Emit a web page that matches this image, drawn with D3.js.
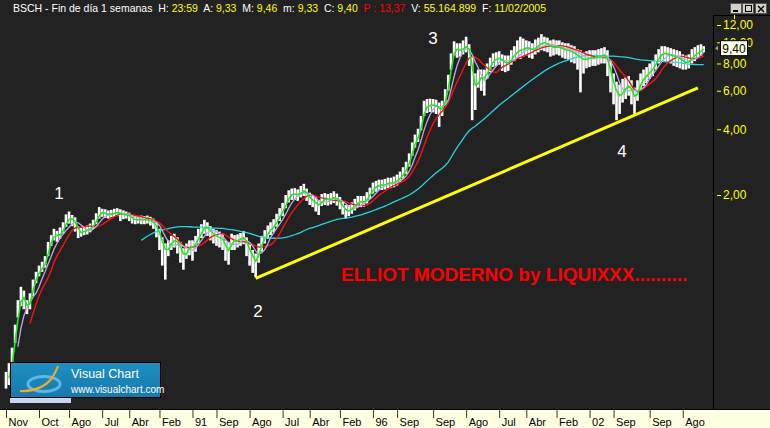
<!DOCTYPE html>
<html><head><meta charset="utf-8">
<script src="https://cdn.jsdelivr.net/npm/d3@7"></script>
<style>
html,body{margin:0;padding:0;background:#222;}
svg{display:block;}
</style></head><body>
<svg id="c" width="770" height="428"></svg>
<script>
// ---- data (monthly bars, starting Nov 1985) ----
const startMonth = "1985-11";
const closes = [0.28,0.30,0.37,0.48,0.59,0.71,0.65,0.60,0.67,0.78,0.85,0.90,0.94,0.98,1.16,1.25,1.32,1.30,1.32,1.41,
1.52,1.57,1.54,1.49,1.34,1.35,1.37,1.38,1.41,1.46,1.55,1.66,1.66,1.64,1.62,1.64,1.66,1.66,1.64,1.62,
1.62,1.60,1.55,1.54,1.54,1.54,1.54,1.54,1.52,1.49,1.40,1.30,1.17,1.09,1.16,1.22,1.25,1.20,1.12,1.03,
1.12,1.16,1.15,1.21,1.30,1.37,1.44,1.41,1.35,1.31,1.29,1.27,1.25,1.12,1.11,1.25,1.22,1.25,1.26,1.29,
1.17,1.10,1.01,0.98,1.12,1.22,1.29,1.36,1.40,1.44,1.54,1.62,1.71,1.86,1.98,2.02,2.02,2.00,2.06,2.11,
2.00,1.92,1.88,1.81,1.79,1.90,1.92,1.90,1.92,1.96,1.90,1.84,1.74,1.69,1.69,1.74,1.81,1.86,1.86,1.86,
1.94,2.04,2.15,2.19,2.22,2.22,2.24,2.27,2.27,2.29,2.34,2.41,2.52,2.66,2.89,3.25,3.53,3.75,4.28,5.00,
5.11,5.16,5.16,5.11,4.90,5.00,5.67,6.50,8.30,9.40,9.20,9.20,9.40,9.70,8.90,6.70,6.05,6.90,6.85,6.90,
7.40,7.90,8.30,8.40,8.50,8.15,8.05,8.05,8.50,8.80,9.20,9.20,9.35,9.45,9.35,9.20,9.50,9.70,10.00,9.90,
9.80,9.50,9.50,9.50,9.50,9.30,9.20,9.20,9.00,8.90,8.60,8.45,8.30,8.40,8.50,8.50,8.50,8.60,8.70,8.80,
8.05,7.00,6.20,5.80,5.60,6.05,6.20,6.40,5.90,5.45,6.10,6.60,6.90,7.10,7.40,7.60,8.15,8.60,8.90,8.90,
8.80,8.70,8.60,8.50,8.40,8.15,8.05,8.15,8.60,8.80,9.00,9.20,9.40];
const highs = [0.31,0.34,0.40,0.51,0.66,0.76,0.73,0.66,0.71,0.82,0.89,0.95,0.99,1.05,1.22,1.31,1.40,1.37,1.42,1.50,
1.63,1.68,1.62,1.58,1.44,1.42,1.44,1.45,1.48,1.54,1.65,1.76,1.73,1.72,1.70,1.71,1.73,1.74,1.72,1.70,
1.68,1.66,1.62,1.60,1.60,1.61,1.60,1.61,1.59,1.56,1.50,1.40,1.28,1.20,1.24,1.30,1.33,1.28,1.22,1.14,
1.20,1.24,1.24,1.30,1.40,1.47,1.54,1.50,1.44,1.40,1.38,1.36,1.33,1.24,1.22,1.33,1.31,1.32,1.34,1.37,
1.28,1.20,1.12,1.08,1.20,1.30,1.38,1.45,1.50,1.55,1.64,1.74,1.84,2.00,2.10,2.14,2.15,2.12,2.20,2.25,
2.14,2.05,2.00,1.95,1.90,2.02,2.04,2.02,2.04,2.08,2.03,1.96,1.86,1.80,1.80,1.85,1.92,1.98,1.98,1.98,
2.06,2.16,2.28,2.32,2.35,2.35,2.37,2.40,2.40,2.43,2.48,2.56,2.68,2.84,3.10,3.48,3.78,4.02,4.60,5.40,
5.50,5.52,5.50,5.46,5.30,5.40,6.10,7.10,8.90,10.10,9.90,9.90,10.20,10.60,9.80,8.60,7.20,7.50,7.50,7.50,
8.00,8.50,8.90,9.00,9.10,8.80,8.70,8.70,9.20,9.60,10.20,10.60,10.40,10.20,10.10,9.90,10.30,10.50,10.90,10.60,
10.50,10.20,10.30,10.20,10.20,10.00,9.90,9.90,9.70,9.60,9.30,9.20,9.00,9.10,9.20,9.20,9.20,9.30,9.40,9.50,
9.20,8.20,7.20,6.60,6.40,6.80,6.90,7.00,6.70,6.20,6.70,7.20,7.50,7.70,8.00,8.20,8.80,9.30,9.60,9.60,
9.50,9.40,9.30,9.20,9.10,8.80,8.70,8.80,9.30,9.50,9.70,9.80,9.60];
const lows = [0.26,0.27,0.33,0.42,0.55,0.62,0.60,0.57,0.60,0.69,0.79,0.85,0.89,0.93,1.05,1.17,1.24,1.22,1.26,1.33,
1.43,1.48,1.44,1.36,1.27,1.29,1.31,1.32,1.35,1.40,1.47,1.56,1.59,1.57,1.56,1.58,1.59,1.60,1.52,1.55,
1.56,1.52,1.48,1.47,1.48,1.47,1.47,1.48,1.45,1.40,1.28,1.12,0.95,0.82,1.05,1.12,1.15,1.08,0.98,0.91,
1.02,1.06,1.00,1.10,1.20,1.27,1.33,1.30,1.24,1.20,1.17,1.15,1.12,1.00,0.96,1.12,1.12,1.15,1.17,1.19,
1.05,0.95,0.88,0.84,0.98,1.10,1.20,1.26,1.31,1.35,1.43,1.52,1.60,1.74,1.85,1.90,1.90,1.88,1.95,1.98,
1.88,1.80,1.76,1.68,1.62,1.78,1.80,1.79,1.81,1.84,1.79,1.72,1.63,1.56,1.60,1.64,1.70,1.76,1.76,1.77,
1.83,1.92,2.03,2.07,2.10,2.11,2.12,2.15,2.15,2.17,2.21,2.28,2.38,2.50,2.70,3.02,3.30,3.50,3.95,4.60,
4.75,4.80,4.78,4.70,4.10,4.60,5.20,6.00,7.50,8.70,8.50,8.60,8.80,9.00,7.80,4.40,4.90,6.20,6.00,5.70,
6.80,7.30,7.70,7.80,7.90,7.40,7.30,7.40,7.90,8.20,8.50,8.40,8.60,8.70,8.50,8.40,8.80,9.00,9.20,9.10,
9.00,8.60,8.70,8.80,8.70,8.50,8.40,8.30,8.10,8.00,7.50,5.90,7.20,7.60,7.70,7.80,7.80,7.90,8.00,8.00,
7.00,5.90,5.20,4.40,4.70,5.30,5.50,5.70,5.20,4.70,5.40,6.00,6.30,6.50,6.80,7.00,7.50,8.00,8.20,8.20,
8.10,8.00,7.80,7.70,7.60,7.50,7.50,7.60,8.00,8.20,8.50,8.70,9.00];
const maPeriods = [46, 9, 5, 2];           // cyan, red, lavender, green
const tickDates = ["1985-11","1986-10","1987-08","1988-07","1989-04","1990-02","1991-01","1991-09","1992-08","1993-07","1994-04","1995-02","1996-01","1996-09","1997-09","1998-08","1999-07","2000-04","2001-02","2002-01","2002-09","2003-09","2004-08"];
const tickLabels = ["Nov","Oct","Ago","Jul","Abr","Feb","91","Sep","Ago","Jul","Abr","Feb","96","Sep","Sep","Ago","Jul","Abr","Feb","02","Sep","Sep","Ago"];
const yTicks = [2,4,6,8,10,12];
const trendDates = ["1992-10","2005-01"];
const trendValues = [0.83, 6.18];
const headerParts = [["BSCH - Fin de día 1 semanas",""],["H: ","23:59"],["A: ","9,33"],["M: ","9,46"],["m: ","9,33"],["C: ","9,40"],["","P : 13,37"],["V: ","55.164.899"],["F: ","11/02/2005"]];
const lastValue = 9.40;

// ---- drawing ----
const svg = d3.select("#c");
const W = 770, H = 428;
const parse = d3.timeParse("%Y-%m");
const t0 = parse(startMonth);
const dates = closes.map((_, i) => d3.timeMonth.offset(t0, i));

const x = d3.scaleTime().domain([dates[0], dates[dates.length - 1]]).range([6, 703.7]);
const y = d3.scaleLog().domain([2, 12]).range([195, 25]);

svg.append("rect").attr("width", W).attr("height", H).attr("fill", "#222");

const defs = svg.append("defs");
defs.append("clipPath").attr("id", "plot")
  .append("rect").attr("x", 0).attr("y", 15).attr("width", 713).attr("height", 394);
const grad = defs.append("linearGradient").attr("id", "lg").attr("x1", 0).attr("y1", 0).attr("x2", 0).attr("y2", 1);
grad.append("stop").attr("offset", "0%").attr("stop-color", "#1d8fc2");
grad.append("stop").attr("offset", "100%").attr("stop-color", "#1879ab");

const g = svg.append("g").attr("clip-path", "url(#plot)");

// bars
g.selectAll("rect.bar").data(closes).join("rect")
  .attr("class", "bar")
  .attr("x", (d, i) => x(dates[i]) - 1.3)
  .attr("width", 2.6)
  .attr("y", (d, i) => y(highs[i]))
  .attr("height", (d, i) => Math.max(1, y(lows[i]) - y(highs[i])))
  .attr("fill", "#ffffff");

function movingAverage(arr, n) {
  return arr.map((v, i) => i < n - 1 ? null : d3.mean(arr.slice(i - n + 1, i + 1)));
}
const maColors = ["#22d6e2", "#ff1010", "#c4a4f4", "#18ee18"];
const maWidths = [1.3, 1.4, 1.3, 1.6];
const line = d3.line().defined(d => d[1] != null).x(d => x(d[0])).y(d => y(d[1]));
maPeriods.forEach((p, k) => {
  const ma = movingAverage(closes, p);
  g.append("path").datum(ma.map((v, i) => [dates[i], v]))
    .attr("fill", "none").attr("stroke", maColors[k]).attr("stroke-width", maWidths[k])
    .attr("d", line);
});

// trend line
g.append("path").datum(trendDates.map((d, i) => [parse(d), trendValues[i]]))
  .attr("fill", "none").attr("stroke", "#ffff00").attr("stroke-width", 3)
  .attr("d", d3.line().x(d => x(d[0])).y(d => y(d[1])));

// wave labels
const waveText = [["1", 59, 199], ["2", 258, 317], ["3", 433, 44], ["4", 622, 157]];
svg.selectAll("text.wave").data(waveText).join("text")
  .attr("class", "wave").attr("x", d => d[1]).attr("y", d => d[2])
  .attr("text-anchor", "middle").attr("fill", "#ffffff")
  .attr("font-family", "Liberation Sans, Arial, sans-serif").attr("font-size", 17)
  .text(d => d[0]);

svg.append("text").attr("x", 341).attr("y", 281)
  .attr("fill", "#ff0000").attr("font-family", "Liberation Sans, Arial, sans-serif")
  .attr("font-weight", "bold").attr("font-size", 19)
  .text("ELLIOT MODERNO by LIQUIXXX..........");

// logo panel
const logo = svg.append("g");
logo.append("rect").attr("x", 10).attr("y", 398).attr("width", 61).attr("height", 5).attr("fill", "#c9d5ef");
logo.append("rect").attr("x", 10.5).attr("y", 362.5).attr("width", 150).attr("height", 35)
  .attr("fill", "url(#lg)").attr("stroke", "#000").attr("stroke-width", 1);
logo.append("ellipse").attr("cx", 44).attr("cy", 384).attr("rx", 16).attr("ry", 7.5)
  .attr("fill", "none").attr("stroke", "#5ab8e8").attr("stroke-width", 3);
logo.append("path").attr("d", "M20,391 C34,392 46,386 52,378 C55,373 57,369 58,366")
  .attr("fill", "none").attr("stroke", "#f2a928").attr("stroke-width", 2.2);
logo.append("text").attr("x", 71).attr("y", 378).attr("fill", "#fff")
  .attr("font-family", "Liberation Sans, Arial, sans-serif").attr("font-size", 12.5).text("Visual Chart");
logo.append("text").attr("x", 71).attr("y", 393).attr("fill", "#fff")
  .attr("font-family", "Liberation Sans, Arial, sans-serif").attr("font-size", 10).text("www.visualchart.com");

// frame lines
svg.append("line").attr("x1", 713.5).attr("x2", 713.5).attr("y1", 15).attr("y2", 410).attr("stroke", "#000");
svg.append("line").attr("x1", 713).attr("x2", 770).attr("y1", 15.5).attr("y2", 15.5).attr("stroke", "#000");

// bottom axis strip
svg.append("rect").attr("x", 0).attr("y", 410).attr("width", W).attr("height", 18).attr("fill", "#ffffe1");
svg.append("line").attr("x1", 0).attr("x2", W).attr("y1", 409.5).attr("y2", 409.5).attr("stroke", "#000");
const xAxis = d3.axisBottom(x).tickValues(tickDates.map(parse)).tickSize(8)
  .tickFormat((d, i) => tickLabels[i]);
const xg = svg.append("g").attr("transform", "translate(0,410)").call(xAxis);
xg.select(".domain").remove();
xg.selectAll(".tick line").attr("stroke", "#333");
xg.selectAll(".tick text").attr("text-anchor", "start").attr("x", 2).attr("y", 16).attr("dy", 0)
  .attr("fill", "#000").attr("font-family", "Liberation Sans, Arial, sans-serif").attr("font-size", 11);

// right axis
const yAxis = d3.axisRight(y).tickValues(yTicks).tickSize(4).tickPadding(2)
  .tickFormat(d => d3.format(".2f")(d).replace(".", ","));
const yg = svg.append("g").attr("transform", "translate(717,0)").call(yAxis);
yg.select(".domain").remove();
yg.selectAll(".tick line").attr("stroke", "#ffff00");
yg.selectAll(".tick text").attr("fill", "#ffff00")
  .attr("font-family", "Liberation Sans, Arial, sans-serif").attr("font-size", 12);
svg.append("line").attr("x1", 734.5).attr("x2", 734.5).attr("y1", 15).attr("y2", 19).attr("stroke", "#ffff00");

// last price marker (covers the 10,00 label as in the reference)
const ly = y(lastValue);
svg.append("path").attr("d", `M715,${ly} l3,-2.5 v5 z`).attr("fill", "#999");
svg.append("rect").attr("x", 720.5).attr("y", ly - 7.5).attr("width", 27).attr("height", 15)
  .attr("fill", "#ffffe1").attr("stroke", "#000");
svg.append("text").attr("x", 734).attr("y", ly + 4.5).attr("text-anchor", "middle")
  .attr("fill", "#000").attr("font-family", "Liberation Sans, Arial, sans-serif").attr("font-size", 12)
  .text(d3.format(".2f")(lastValue).replace(".", ","));

// header
const header = svg.append("text").attr("x", 13).attr("y", 12)
  .attr("font-family", "Liberation Sans, Arial, sans-serif").attr("font-size", 10.5)
  .style("white-space", "pre");
headerParts.forEach((p, i) => {
  header.append("tspan").attr("fill", "#ffffff").text((i ? "  " : "") + p[0]);
  if (p[1]) header.append("tspan").attr("fill", p[1].startsWith("P") ? "#ff0000" : "#ffff00").text(p[1]);
});
header.attr("textLength", 533).attr("lengthAdjust", "spacing");

// window buttons
const btn = svg.append("g");
[730, 742, 755].forEach(bx => {
  btn.append("rect").attr("x", bx + 0.5).attr("y", 3.5).attr("width", 11).attr("height", 10)
    .attr("fill", "#d4d0c8").attr("stroke", "#555");
});
btn.append("line").attr("x1", 733).attr("x2", 738).attr("y1", 11).attr("y2", 11).attr("stroke", "#000").attr("stroke-width", 2);
btn.append("rect").attr("x", 745.5).attr("y", 5.5).attr("width", 6).attr("height", 6).attr("fill", "none").attr("stroke", "#000");
btn.append("path").attr("d", "M758,6 l6,6 M764,6 l-6,6").attr("stroke", "#000").attr("stroke-width", 1.4);
</script>
</body></html>
